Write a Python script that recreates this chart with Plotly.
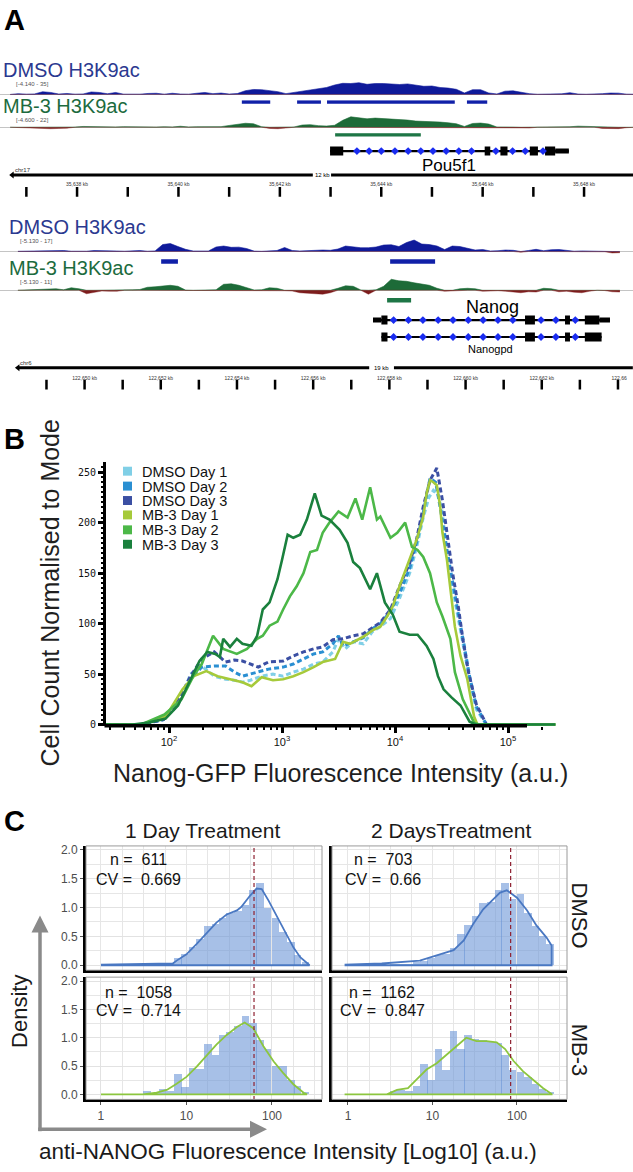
import plotly.graph_objects as go

W, H = 633, 1172
FONT = "Liberation Sans"


def py(p):
    return 1 - p / H


def pxf(p):
    return p / W


# ======================= PANEL A DATA =======================
# fixed-step signal tracks (kb from left edge of view)
TOP_START_KB, TOP_STEP_KB = 0.20, 0.16
TOP_DMSO_SIGNAL = [0, 0.8, 0.3, 0.5, 2.7, 2, 0.4, 1, 0.3, 0.5,
                   2.5, 2, 0.7, 2, 0.3, -0.6, 0.3, 1, 1.2, 0.3,
                   1.2, 0.4, 0.3, 1.2, 2, 0.8, 1.4, 0.4, 0.9, 3.8,
                   5, 4.8, 4, 2.8, 0.8, 2, 3.5, 4.2, 5.5, 7,
                   9.5, 11.2, 11, 11.8, 10.2, 11, 11, 10.6, 10, 10.6,
                   9.2, 8.2, 8.5, 7, 6.4, 5.2, 1.5, 4.8, 4.8, 1.5,
                   0.5, 3.3, 3.6, 2, 0.8, 0.2, 0.3, 0.3, 0.6, 1.8,
                   0.4, 0.2, 0.3, 0.8, 1.4, 1.3, 0.3, 0.2]
TOP_MB3_SIGNAL = [0, -0.3, -1.2, -1.5, -1.3, -1.5, -1.2, -1.0, 0.2, 0.8,
                  0.6, 0.2, 0.2, 0.3, 0.6, 0.4, 0.2, 0.3, 0.2, 0.5,
                  0.3, 1, 0.3, 0.5, 0.3, 0.5, 0.6, 1.8, 2.8, 4,
                  3.5, 0.5, -1.2, -1.5, -0.8, 0.3, 2.2, 2.6, 1.6, 1.2,
                  2, 7, 10.5, 9.5, 8.5, 9.2, 8.8, 8.4, 7.6, 7.2,
                  6.2, 6, 5.4, 5.2, 4.5, 3.5, 0.8, 3.8, 4.2, 3.2,
                  0.3, 0.5, 0.2, -0.7, -0.8, 0.2, 0.2, 0.2, 0.3, 0.5,
                  1.1, 0.8, 0.2, -1.2, -1.5, -1.4, -0.5, 0]
TOP_DMSO_PEAKS = [(4.77, 5.33), (5.86, 6.33), (6.45, 8.97), (9.21, 9.61)]
TOP_MB3_PEAKS = [(6.61, 8.30)]
POU5F1_SPAN = (6.51, 11.22)
POU5F1_EXONS = [(6.51, 6.77), (9.56, 9.67), (9.87, 10.01), (10.45, 10.61), (10.75, 10.95)]
POU5F1_UTRS = [(10.95, 11.22)]
POU5F1_STRAND = [7.04, 7.28, 7.52, 7.79, 8.05, 8.30, 8.54, 8.80, 9.05, 9.30, 9.78, 10.11, 10.36, 10.71]
TOP_RULER = [(0.24, 6.17), (6.53, 12.49)]
TOP_TICKS = [0.52, 1.52, 2.52, 3.52, 4.52, 5.52, 6.52, 7.52, 8.52, 9.52, 10.52, 11.52]
TOP_TICK_LABEL_POS = [1.52, 3.52, 5.52, 7.52, 9.52, 11.52]
TOP_TICK_LABELS = ["35,638 kb", "35,640 kb", "35,642 kb", "35,644 kb", "35,646 kb", "35,648 kb"]

BOT_START_KB, BOT_STEP_KB = 0.47, 0.20
BOT_DMSO_SIGNAL = [0.2, 0.3, 0.5, 0.6, 0.2, 0.8, 1, 0.3, 0.2, 0.3,
                   1, 0.6, 0.2, 0.5, 0.3, 0.8, 1, 0.3, 0.6, 7,
                   8, 5, 2.2, 0.5, 0.3, 0.5, 4.5, 5.5, 4.2, 4.4,
                   3, 0.4, 0.2, 0.3, 1, 4, 1, 0.5, 0.8, 1.5,
                   1.5, 1.2, 2.5, 5.5, 4.5, 3.8, 3.8, 4.5, 6.5, 6.8,
                   5, 9, 11.5, 7.5, 7, 5.5, 2, 5.5, 5, 3.5,
                   1.5, 2, 0.5, 0.8, 1.5, 1.2, -0.8, 1, 2.2, 0.8,
                   1.8, 2, 0.8, 0.3, 0.6, 0.3, 0.2, -0.3, -1.5, -1.2]
BOT_MB3_SIGNAL = [0, 0.3, -0.3, 0.3, 1.2, 1.5, 0.5, 2.5, 1.5, -3.5,
                  -2.5, -0.8, -1, -1, 0.2, 0.5, 0.8, 3, 3.5, 4,
                  5, 4, 0.2, -0.5, -0.3, -0.5, 0.5, 6, 6.5, 5,
                  3, 0.3, 0.5, 2.5, 2, -0.5, -0.8, -2.5, -3, -3.5,
                  -4, -2.5, 2, 4.5, 4, 0.3, -4, 0.5, 4, 11,
                  9.5, 9, 7.5, 6.5, 5, 2, -1, -0.5, 1.5, 2,
                  1.5, -1, -0.8, -0.5, -1, -2, -2.5, -1.5, -1.8, 2,
                  1.5, -1.5, -1, -2, -2.5, -1, 0.5, -0.3, -1.5, -1.8]
BOT_DMSO_PEAKS = [(4.23, 4.67), (10.24, 11.42)]
BOT_MB3_PEAKS = [(10.16, 10.79)]
NANOG_SPAN = (9.79, 16.01)
NANOG_EXONS = [(10.01, 10.17), (13.78, 14.04), (14.83, 14.96), (15.35, 15.73)]
NANOG_UTRS = [(9.79, 10.01), (15.73, 16.01)]
NANOGPD_SPAN = (10.01, 15.79)
NANOGPD_EXONS = [(10.01, 10.17), (13.78, 14.04), (14.83, 14.96), (15.35, 15.79)]
NANOG_STRAND = [10.33, 10.72, 11.10, 11.50, 11.89, 12.29, 12.68, 13.07, 13.46, 14.20, 14.59, 15.10]
BOT_RULER = [(0.47, 9.69), (10.34, 16.61)]
BOT_TICKS = [1.22, 2.22, 3.22, 4.22, 5.22, 6.22, 7.22, 8.22, 9.22, 10.22, 11.22, 12.22, 13.22, 14.22, 15.22, 16.22]
BOT_TICK_LABEL_POS = [2.22, 4.22, 6.22, 8.22, 10.22, 12.22, 14.22, 16.25]
BOT_TICK_LABELS = ["122,650 kb", "122,652 kb", "122,654 kb", "122,656 kb",
                   "122,658 kb", "122,660 kb", "122,662 kb", "122,66"]

# ======================= PANEL B DATA =======================
B_NAMES = ["DMSO Day 1", "DMSO Day 2", "DMSO Day 3", "MB-3 Day 1", "MB-3 Day 2", "MB-3 Day 3"]
B_COLORS = ["#80cfe6", "#2a8fd2", "#3b4fa3", "#a6ca3a", "#4cb848", "#1a803d"]

DMSO_D1_LOGX = [1.44, 1.75, 1.95, 2.04, 2.12, 2.19, 2.29, 2.40, 2.50, 2.58, 2.65, 2.72, 2.82, 2.92, 3.01,
                3.10, 3.19, 3.28, 3.36, 3.45, 3.50, 3.56, 3.63, 3.72, 3.80, 3.87, 3.96, 4.04, 4.13, 4.19,
                4.25, 4.30, 4.34, 4.38, 4.42, 4.46, 4.51, 4.56, 4.61, 4.66, 4.72, 4.81, 4.90]
DMSO_D1_Y = [0, 0, 5, 15, 30, 50, 58, 48, 45, 44, 42, 44, 48, 50, 48,
             52, 55, 60, 62, 72, 85, 75, 82, 80, 92, 97, 105, 125, 150, 175,
             205, 225, 232, 228, 210, 170, 135, 105, 75, 45, 15, 0, 0]
DMSO_D2_LOGX = [1.44, 1.75, 1.95, 2.04, 2.12, 2.19, 2.29, 2.40, 2.50, 2.58, 2.65, 2.72, 2.79, 2.88, 3.01,
                3.10, 3.19, 3.28, 3.36, 3.45, 3.50, 3.54, 3.63, 3.72, 3.80, 3.87, 3.96, 4.04, 4.13, 4.19,
                4.25, 4.31, 4.36, 4.40, 4.46, 4.51, 4.56, 4.61, 4.66, 4.72, 4.81, 4.90]
DMSO_D2_Y = [0, 0, 5, 15, 30, 45, 57, 58, 58, 52, 48, 50, 52, 55, 57,
             60, 65, 70, 72, 80, 88, 78, 82, 86, 95, 100, 112, 130, 155, 180,
             210, 244, 240, 215, 173, 140, 110, 80, 48, 18, 0, 0]
DMSO_D3_LOGX = [1.44, 1.75, 1.95, 2.04, 2.12, 2.19, 2.29, 2.40, 2.50, 2.58, 2.65, 2.72, 2.79, 2.88, 3.01,
                3.10, 3.19, 3.28, 3.36, 3.45, 3.54, 3.63, 3.72, 3.80, 3.87, 3.96, 4.04, 4.13, 4.19, 4.25,
                4.31, 4.37, 4.42, 4.46, 4.51, 4.56, 4.60, 4.65, 4.72, 4.81, 4.90]
DMSO_D3_Y = [0, 0, 5, 15, 32, 48, 65, 72, 62, 64, 63, 60, 57, 62, 63,
             68, 72, 75, 77, 84, 85, 88, 90, 96, 101, 114, 137, 160, 183, 216,
             242, 254, 222, 190, 150, 117, 85, 52, 20, 0, 0]
MB3_D1_LOGX = [1.44, 1.75, 1.97, 2.12, 2.22, 2.33, 2.43, 2.54, 2.65, 2.73, 2.82, 2.92, 3.01, 3.10, 3.19,
               3.28, 3.36, 3.47, 3.54, 3.60, 3.72, 3.81, 3.87, 3.93, 3.98, 4.04, 4.11, 4.16, 4.20, 4.25,
               4.28, 4.31, 4.34, 4.37, 4.40, 4.42, 4.46, 4.49, 4.53, 4.58, 4.64, 4.70, 4.73, 5.42]
MB3_D1_Y = [0, 0, 8, 35, 48, 53, 48, 45, 42, 38, 47, 44, 45, 48, 52,
            57, 62, 65, 82, 80, 87, 94, 97, 107, 117, 137, 157, 173, 186, 206,
            229, 242, 240, 237, 216, 190, 163, 134, 97, 68, 45, 8, 0, 0]
MB3_D2_LOGX = [1.44, 1.75, 1.96, 2.11, 2.22, 2.29, 2.39, 2.48, 2.60, 2.69, 2.78, 2.83, 2.89, 2.96, 3.01,
               3.07, 3.13, 3.19, 3.25, 3.31, 3.36, 3.42, 3.50, 3.58, 3.65, 3.71, 3.78, 3.84, 3.87, 3.96,
               4.02, 4.09, 4.15, 4.20, 4.25, 4.31, 4.37, 4.42, 4.49, 4.53, 4.60, 4.65, 4.70, 4.75, 5.42]
MB3_D2_Y = [0, 0, 10, 25, 49, 60, 88, 75, 70, 75, 85, 88, 98, 102, 114,
            127, 137, 150, 171, 173, 190, 200, 211, 205, 224, 203, 235, 203, 206, 185,
            190, 200, 176, 173, 166, 150, 121, 107, 85, 52, 25, 13, 2, 0, 0]
MB3_D3_LOGX = [1.44, 1.68, 1.82, 1.97, 2.08, 2.19, 2.27, 2.34, 2.41, 2.45, 2.48, 2.54, 2.60, 2.65, 2.73,
               2.78, 2.83, 2.89, 2.96, 3.00, 3.05, 3.10, 3.16, 3.22, 3.29, 3.35, 3.42, 3.51, 3.58, 3.63,
               3.69, 3.78, 3.84, 3.91, 3.98, 4.04, 4.13, 4.20, 4.28, 4.34, 4.38, 4.43, 4.50, 4.58, 4.66,
               4.72, 5.42]
MB3_D3_Y = [0, 0, 2, 6, 19, 45, 63, 72, 70, 67, 85, 77, 85, 80, 78,
            88, 114, 121, 144, 163, 188, 185, 188, 203, 229, 207, 203, 193, 180, 161,
            155, 134, 150, 121, 109, 92, 89, 89, 78, 65, 48, 35, 27, 19, 3,
            0, 0]
B_X_TICKS = [100, 1000, 10000, 100000]
B_X_TICKTEXT = ["10<sup>2</sup>", "10<sup>3</sup>", "10<sup>4</sup>", "10<sup>5</sup>"]
B_X_MINOR = [30, 40, 50, 60, 70, 80, 90, 200, 300, 400, 500, 600, 700, 800, 900,
             2000, 3000, 4000, 5000, 6000, 7000, 8000, 9000,
             20000, 30000, 40000, 50000, 60000, 70000, 80000, 90000, 200000]
B_Y_TICKS = [0, 50, 100, 150, 200, 250]

# ======================= PANEL C DATA =======================
C_BIN_CENTERS = [0.54, 0.63, 0.72, 0.81, 0.90, 0.98, 1.07, 1.16, 1.25, 1.34, 1.42,
                 1.51, 1.60, 1.69, 1.78, 1.86, 1.95, 2.04, 2.13, 2.22, 2.30, 2.39]
C_BIN_WIDTH = 0.088
HIST_DMSO_1D = [0, 0.02, 0.02, 0.04, 0.12, 0.20, 0.32, 0.45, 0.68, 0.72, 0.82,
                0.90, 0.95, 1.05, 1.30, 1.43, 1.00, 0.82, 0.58, 0.40, 0.18, 0.06]
HIST_DMSO_2D = [0.02, 0.02, 0.03, 0.05, 0.08, 0.12, 0.17, 0.20, 0.30, 0.55, 0.70,
                0.85, 1.08, 1.10, 1.30, 1.43, 1.15, 1.24, 0.90, 0.68, 0.50, 0.37]
HIST_MB3_1D = [0.05, 0.02, 0.10, 0.05, 0.35, 0.13, 0.46, 0.45, 0.88, 0.70, 1.05,
               1.10, 1.20, 1.38, 1.25, 0.95, 0.80, 0.50, 0.50, 0.25, 0.15, 0.04]
HIST_MB3_2D = [0.05, 0.08, 0.06, 0.15, 0.53, 0.25, 0.80, 0.43, 1.12, 0.80, 1.05,
               0.98, 0.95, 0.93, 0.90, 0.70, 0.42, 0.40, 0.30, 0.18, 0.10, 0.04]
DENS_DMSO_1D_X = [0.0, 0.5, 0.84, 0.885, 1.0, 1.12, 1.24, 1.35, 1.47, 1.59, 1.64, 1.74, 1.82, 1.88, 1.96,
                  2.05, 2.17, 2.25, 2.33, 2.41, 2.44]
DENS_DMSO_1D_Y = [0.01, 0.02, 0.03, 0.08, 0.19, 0.37, 0.57, 0.74, 0.88, 0.95, 1.01, 1.20, 1.33, 1.32, 1.12,
                  0.86, 0.54, 0.31, 0.14, 0.05, 0.01]
DENS_DMSO_2D_X = [-0.04, 0.4, 0.85, 1.05, 1.25, 1.37, 1.48, 1.60, 1.70, 1.80, 1.88, 2.00, 2.12, 2.23, 2.35, 2.41]
DENS_DMSO_2D_Y = [0.01, 0.03, 0.08, 0.17, 0.26, 0.43, 0.71, 0.97, 1.12, 1.26, 1.30, 1.17, 0.95, 0.69, 0.48, 0.34]
DENS_MB3_1D_X = [0.0, 0.49, 0.65, 0.77, 0.885, 1.0, 1.12, 1.24, 1.35, 1.47, 1.59, 1.68, 1.78, 1.90, 2.02,
                 2.13, 2.25, 2.37, 2.41]
DENS_MB3_1D_Y = [0.0, 0.0, 0.03, 0.08, 0.19, 0.31, 0.49, 0.70, 0.88, 1.05, 1.19, 1.27, 1.17, 0.85, 0.58,
                 0.38, 0.18, 0.03, 0.0]
DENS_MB3_2D_X = [-0.04, 0.46, 0.58, 0.71, 0.81, 0.93, 1.05, 1.17, 1.29, 1.40, 1.52, 1.64, 1.76, 1.86, 1.96,
                 2.07, 2.19, 2.31, 2.41]
DENS_MB3_2D_Y = [0.0, 0.0, 0.08, 0.11, 0.26, 0.44, 0.55, 0.70, 0.85, 1.0, 0.94, 0.94, 0.92, 0.80, 0.59,
                 0.41, 0.26, 0.11, 0.01]
C_MEDIAN_LOG = [1.79, 1.925, 1.79, 1.925]
C_N = [611, 703, 1058, 1162]
C_CV = ["0.669", "0.66", "0.714", "0.847"]

# ======================= STYLE CONSTANTS =======================
NAVY_TXT = "#2b3990"
GREEN_TXT = "#1c6b3e"
DMSO_FILL = "#0f1a9a"
MB3_FILL = "#1d6b38"
NEG_FILL = "#7d1c1c"
PEAK_BLUE = "#1020a8"
PEAK_GREEN = "#1e7646"
STRAND_BLUE = "#1a2cf0"
ARROW_GREY = "#8a8a8a"
TINY = 6

fig = go.Figure()


def segments(pairs, y):
    xs, ys = [], []
    for s, e in pairs:
        xs += [s, e, None]
        ys += [y, y, None]
    return xs, ys


def add_signal(start, step, vals, xa, ya, pos_color):
    xs = [start + step * i for i in range(len(vals))]
    pos = [max(v, 0) for v in vals]
    neg = [min(v, 0) for v in vals]
    fig.add_trace(go.Scatter(x=xs, y=pos, mode="lines", fill="tozeroy", fillcolor=pos_color,
                             line=dict(color=pos_color, width=0.6), xaxis=xa, yaxis=ya, hoverinfo="skip"))
    fig.add_trace(go.Scatter(x=xs, y=neg, mode="lines", fill="tozeroy", fillcolor=NEG_FILL,
                             line=dict(color=NEG_FILL, width=0.4), xaxis=xa, yaxis=ya, hoverinfo="skip"))


def add_lines(pairs, y, color, width, xa, ya):
    xs, ys = segments(pairs, y)
    fig.add_trace(go.Scatter(x=xs, y=ys, mode="lines", line=dict(color=color, width=width),
                             xaxis=xa, yaxis=ya, hoverinfo="skip"))


def add_gene(span, exons, utrs, strand, y, xa, ya):
    add_lines([span], y, "black", 2.2, xa, ya)
    if utrs:
        add_lines(utrs, y, "black", 5, xa, ya)
    add_lines(exons, y, "black", 9, xa, ya)
    fig.add_trace(go.Scatter(x=strand, y=[y] * len(strand), mode="markers",
                             marker=dict(symbol="diamond", size=6, color=STRAND_BLUE),
                             xaxis=xa, yaxis=ya, hoverinfo="skip"))


def add_ruler(ruler, ticks, lab_pos, labels, y_line, y_tick, y_lab, xa, ya):
    add_lines(ruler, y_line, "black", 3, xa, ya)
    fig.add_trace(go.Scatter(x=[ruler[0][0]], y=[y_line], mode="markers",
                             marker=dict(symbol="triangle-left", size=6, color="black"),
                             xaxis=xa, yaxis=ya, hoverinfo="skip"))
    fig.add_trace(go.Scatter(x=ticks, y=[y_tick] * len(ticks), mode="markers",
                             marker=dict(symbol="line-ns", size=7, line=dict(width=2.5, color="black")),
                             xaxis=xa, yaxis=ya, hoverinfo="skip"))
    fig.add_trace(go.Scatter(x=lab_pos, y=[y_lab] * len(lab_pos), mode="text", text=labels,
                             textfont=dict(family=FONT, size=5, color="#333"),
                             xaxis=xa, yaxis=ya, hoverinfo="skip"))


# ---------- Panel A top ----------
add_signal(TOP_START_KB, TOP_STEP_KB, TOP_DMSO_SIGNAL, "x", "y2", DMSO_FILL)
add_signal(TOP_START_KB, TOP_STEP_KB, TOP_MB3_SIGNAL, "x", "y3", MB3_FILL)
add_lines(TOP_DMSO_PEAKS, 99, PEAK_BLUE, 4.5, "x", "y")
add_lines(TOP_MB3_PEAKS, 132, PEAK_GREEN, 4.5, "x", "y")
add_gene(POU5F1_SPAN, POU5F1_EXONS, POU5F1_UTRS, POU5F1_STRAND, 149, "x", "y")
add_ruler(TOP_RULER, TOP_TICKS, TOP_TICK_LABEL_POS, TOP_TICK_LABELS, 173, 190, 182.5, "x", "y")

# ---------- Panel A bottom ----------
add_signal(BOT_START_KB, BOT_STEP_KB, BOT_DMSO_SIGNAL, "x2", "y5", DMSO_FILL)
add_signal(BOT_START_KB, BOT_STEP_KB, BOT_MB3_SIGNAL, "x2", "y6", MB3_FILL)
add_lines(BOT_DMSO_PEAKS, 260, PEAK_BLUE, 4.5, "x2", "y4")
add_lines(BOT_MB3_PEAKS, 299, PEAK_GREEN, 4.5, "x2", "y4")
add_gene(NANOG_SPAN, NANOG_EXONS, NANOG_UTRS, NANOG_STRAND, 319, "x2", "y4")
add_gene(NANOGPD_SPAN, NANOGPD_EXONS, [], NANOG_STRAND, 336, "x2", "y4")
add_ruler(BOT_RULER, BOT_TICKS, BOT_TICK_LABEL_POS, BOT_TICK_LABELS, 367, 384, 378.5, "x2", "y4")

# ---------- Panel B ----------
b_series = [(DMSO_D1_LOGX, DMSO_D1_Y), (DMSO_D2_LOGX, DMSO_D2_Y), (DMSO_D3_LOGX, DMSO_D3_Y),
            (MB3_D1_LOGX, MB3_D1_Y), (MB3_D2_LOGX, MB3_D2_Y), (MB3_D3_LOGX, MB3_D3_Y)]
for i, (lx, yy) in enumerate(b_series):
    dmso = i < 3
    fig.add_trace(go.Scatter(
        x=[10 ** v for v in lx], y=yy, mode="lines", name=B_NAMES[i],
        line=dict(color=B_COLORS[i], width=3 if dmso else 2.6,
                  dash="5px,3px" if dmso else "solid"),
        xaxis="x3", yaxis="y7", hoverinfo="skip"))

# ---------- Panel C ----------
c_panels = [
    ("x4", "y8", HIST_DMSO_1D, DENS_DMSO_1D_X, DENS_DMSO_1D_Y, "#4a78c2"),
    ("x5", "y9", HIST_DMSO_2D, DENS_DMSO_2D_X, DENS_DMSO_2D_Y, "#4a78c2"),
    ("x6", "y10", HIST_MB3_1D, DENS_MB3_1D_X, DENS_MB3_1D_Y, "#8cc63f"),
    ("x7", "y11", HIST_MB3_2D, DENS_MB3_2D_X, DENS_MB3_2D_Y, "#8cc63f"),
]
for k, (xa, ya, hist, dx, dy, col) in enumerate(c_panels):
    fig.add_trace(go.Bar(x=C_BIN_CENTERS, y=hist, width=C_BIN_WIDTH,
                         marker=dict(color="rgba(104,146,214,0.58)", line=dict(width=0)),
                         xaxis=xa, yaxis=ya, hoverinfo="skip"))
    fig.add_trace(go.Scatter(x=dx + [dx[-1], dx[0]], y=dy + [0, 0], mode="lines",
                             line=dict(color=col, width=1.8), xaxis=xa, yaxis=ya, hoverinfo="skip"))
    m = C_MEDIAN_LOG[k]
    fig.add_trace(go.Scatter(x=[m, m], y=[-0.1, 2.1], mode="lines",
                             line=dict(color="#8e1f2f", width=1.2, dash="4px,3px"),
                             xaxis=xa, yaxis=ya, hoverinfo="skip"))

# ======================= AXES =======================
hidden = dict(visible=False)
sig_axis = dict(showticklabels=False, tickvals=[], showgrid=False, zeroline=True, zerolinecolor="#c4c4c4",
                zerolinewidth=1, showline=False, ticks="", range=[-6, 14], fixedrange=True)

layout_axes = dict(
    xaxis=dict(domain=[0, 1], range=[0, W / 50.7], anchor="y", **hidden),
    yaxis=dict(domain=[py(200), py(0)], range=[200, 0], anchor="x", **hidden),
    yaxis2=dict(domain=[py(98), py(78)], anchor="x", **sig_axis),
    yaxis3=dict(domain=[py(131), py(111)], anchor="x", **sig_axis),
    xaxis2=dict(domain=[0, 1], range=[0, W / 38.1], anchor="y4", **hidden),
    yaxis4=dict(domain=[py(400), py(200)], range=[400, 200], anchor="x2", **hidden),
    yaxis5=dict(domain=[py(256), py(236)], anchor="x2", **sig_axis),
    yaxis6=dict(domain=[py(295), py(275)], anchor="x2", **sig_axis),
    xaxis3=dict(domain=[pxf(106), pxf(556)], type="log", range=[1.4425, 5.4248], anchor="y7",
                showline=False, showgrid=False, zeroline=False, ticks="outside", ticklen=6,
                tickwidth=2.5, tickcolor="black", tickvals=B_X_TICKS, ticktext=B_X_TICKTEXT,
                tickfont=dict(family=FONT, size=11, color="#111"),
                minor=dict(ticks="outside", ticklen=3, tickwidth=1.5, tickcolor="black",
                           tickvals=B_X_MINOR, showgrid=False)),
    yaxis7=dict(domain=[py(727), py(462)], range=[-1, 259.8], anchor="x3", showline=True,
                linewidth=3, linecolor="black", ticks="outside", ticklen=5, tickwidth=3,
                tickcolor="black", tickvals=B_Y_TICKS,
                tickfont=dict(family="DejaVu Sans Mono", size=10, color="#111"),
                showgrid=False, zeroline=False,
                minor=dict(ticks="outside", ticklen=2, tickwidth=1.5, tickcolor="black",
                           dtick=5, showgrid=False)),
)


def c_x(dom, rng, anchor, labels):
    d = dict(domain=[pxf(dom[0]), pxf(dom[1])], range=rng, anchor=anchor, showline=True,
             linewidth=3, linecolor="black", mirror=False, zeroline=False,
             showgrid=True, gridcolor="#e2e2e2", gridwidth=1,
             minor=dict(dtick=0.25, tick0=0, showgrid=True, gridcolor="#e6e6e6", gridwidth=0.9, ticks=""))
    if labels:
        d.update(tickvals=[0, 1, 2], ticktext=["1", "10", "100"],
                 ticks="outside", ticklen=3, tickcolor="#555", tickwidth=1,
                 tickfont=dict(family=FONT, size=12, color="#4d4d4d"))
    else:
        d.update(tickvals=[], ticks="", showticklabels=False)
    return d


def c_y(dom, rng, anchor, labels):
    d = dict(domain=[py(dom[1]), py(dom[0])], range=rng, anchor=anchor, showline=True,
             linewidth=3, linecolor="black", mirror=False, zeroline=False,
             showgrid=True, gridcolor="#e2e2e2", gridwidth=1,
             minor=dict(dtick=0.25, tick0=0, showgrid=True, gridcolor="#e6e6e6", gridwidth=0.9, ticks=""))
    if labels:
        d.update(tickvals=[0, 0.5, 1, 1.5, 2], ticktext=["0.0", "0.5", "1.0", "1.5", "2.0"],
                 ticks="outside", ticklen=3, tickcolor="#555", tickwidth=1,
                 tickfont=dict(family=FONT, size=12, color="#4d4d4d"))
    else:
        d.update(tickvals=[], ticks="", showticklabels=False)
    return d


C_LEFT, C_RIGHT = (86, 322), (332, 567)
C_TOP, C_BOT = (848, 973), (980, 1103)
RX_L, RX_R = [-0.175, 2.585], [-0.189, 2.592]
RY_T, RY_B = [-0.086, 2.069], [-0.088, 2.07]
layout_axes.update(
    xaxis4=c_x(C_LEFT, RX_L, "y8", False), yaxis8=c_y(C_TOP, RY_T, "x4", True),
    xaxis5=c_x(C_RIGHT, RX_R, "y9", False), yaxis9=c_y(C_TOP, RY_T, "x5", False),
    xaxis6=c_x(C_LEFT, RX_L, "y10", True), yaxis10=c_y(C_BOT, RY_B, "x6", True),
    xaxis7=c_x(C_RIGHT, RX_R, "y11", True), yaxis11=c_y(C_BOT, RY_B, "x7", False),
)

# ======================= SHAPES =======================
shapes = []
# Panel B x-axis line (stops before the end of the plotted range)
shapes.append(dict(type="line", xref="paper", yref="paper", x0=pxf(104.5), x1=pxf(527),
                   y0=py(727), y1=py(727), line=dict(color="black", width=3.5)))
# Panel C borders
for (xd, yd) in [(C_LEFT, C_TOP), (C_RIGHT, C_TOP), (C_LEFT, C_BOT), (C_RIGHT, C_BOT)]:
    shapes.append(dict(type="rect", xref="paper", yref="paper", x0=pxf(xd[0]), x1=pxf(xd[1]),
                       y0=py(yd[1]), y1=py(yd[0]), line=dict(color="#9a9a9a", width=1),
                       fillcolor="rgba(0,0,0,0)", layer="above"))
# Panel B legend swatches
LEG_ROWS = [471, 486, 500.5, 515, 530, 544.5]
for i, r in enumerate(LEG_ROWS):
    shapes.append(dict(type="rect", xref="paper", yref="paper", x0=pxf(123), x1=pxf(132),
                       y0=py(r + 4.5), y1=py(r - 4.5), line=dict(width=0), fillcolor=B_COLORS[i]))


def ppath(points):
    return "M " + " L ".join("%.5f,%.5f" % (pxf(a), py(b)) for a, b in points) + " Z"


# Panel C grey axis arrows
shapes.append(dict(type="line", xref="paper", yref="paper", x0=pxf(40), x1=pxf(40),
                   y0=py(1135), y1=py(933), line=dict(color=ARROW_GREY, width=3.5)))
shapes.append(dict(type="path", xref="paper", yref="paper", path=ppath([(40, 918), (31.5, 935), (48.5, 935)]),
                   fillcolor=ARROW_GREY, line=dict(width=0)))
shapes.append(dict(type="line", xref="paper", yref="paper", x0=pxf(38.2), x1=pxf(252),
                   y0=py(1133), y1=py(1133), line=dict(color=ARROW_GREY, width=3.5)))
shapes.append(dict(type="path", xref="paper", yref="paper", path=ppath([(267, 1133), (250, 1124.5), (250, 1141.5)]),
                   fillcolor=ARROW_GREY, line=dict(width=0)))

# ======================= ANNOTATIONS =======================
ann = []


def text(t, x, y, size, color="#1a1a1a", xanchor="center", angle=0, family=FONT):
    ann.append(dict(text=t, x=pxf(x), y=py(y), xref="paper", yref="paper", showarrow=False,
                    font=dict(family=family, size=size, color=color), xanchor=xanchor,
                    yanchor="middle", textangle=angle))


# Panel A
text("<b>A</b>", 2, 17, 29, "black", "left")
text("DMSO H3K9ac", 1, 67, 20, NAVY_TXT, "left")
text("MB-3 H3K9ac", 1, 104, 20, GREEN_TXT, "left")
text("[-4.140 - 35]", 14, 81, TINY, "#555", "left")
text("[-4.600 - 22]", 14, 118, TINY, "#555", "left")
text("Pou5f1", 449, 163, 17, "black")
text("12 kb", 322, 173, TINY, "black")
text("chr17", 13, 168.5, TINY, "#333", "left")
text("DMSO H3K9ac", 7, 225, 20, NAVY_TXT, "left")
text("MB-3 H3K9ac", 7, 267, 20, GREEN_TXT, "left")
text("[-5.130 - 17]", 18, 239, TINY, "#555", "left")
text("[-5.130 - 11]", 18, 281, TINY, "#555", "left")
text("Nanog", 492, 306, 18, "black")
text("Nanogpd", 490, 348, 11, "black")
text("19 kb", 381.5, 367, TINY, "black")
text("chr6", 18, 362.5, TINY, "#333", "left")

# Panel B
text("<b>B</b>", 2, 439, 29, "black", "left")
text("Cell Count Normalised to Mode", 50, 594, 25, "#1f1f1f", angle=-90)
text("Nanog-GFP Fluorescence Intensity (a.u.)", 340, 775, 25, "#1f1f1f")
for i, r in enumerate(LEG_ROWS):
    text(B_NAMES[i], 140, r + 0.5, 14.5, "#111", "left")

# Panel C
text("<b>C</b>", 2, 823, 29, "black", "left")
text("1 Day Treatment", 202, 832, 21, "#1a1a1a")
text("2 DaysTreatment", 451, 832, 21, "#1a1a1a")
text("DMSO", 579, 918, 22, "#1a1a1a", angle=90)
text("MB-3", 579, 1053, 22, "#1a1a1a", angle=90)
C_TEXT_POS = [(138, 862, 882), (383, 862, 882), (138, 995, 1014), (382, 995, 1014)]
for k, (xc, yn, ycv) in enumerate(C_TEXT_POS):
    text("n =  %d" % C_N[k], xc, yn, 16, "#111")
    text("CV =  %s" % C_CV[k], xc, ycv, 16, "#111")
text("Density", 20, 1015, 22, "#1a1a1a", angle=-90)
text("anti-NANOG Fluorescence Intensity [Log10] (a.u.)", 288, 1155, 22.5, "#1a1a1a")

fig.update_layout(
    width=W, height=H, margin=dict(l=0, r=0, t=0, b=0, pad=0),
    paper_bgcolor="white", plot_bgcolor="white", showlegend=False,
    barmode="overlay", bargap=0, shapes=shapes, annotations=ann,
    font=dict(family=FONT), **layout_axes,
)

fig.write_html("out.html", config={"displayModeBar": False},
               post_script="document.body.style.margin='0px';document.body.style.overflow='hidden';")
